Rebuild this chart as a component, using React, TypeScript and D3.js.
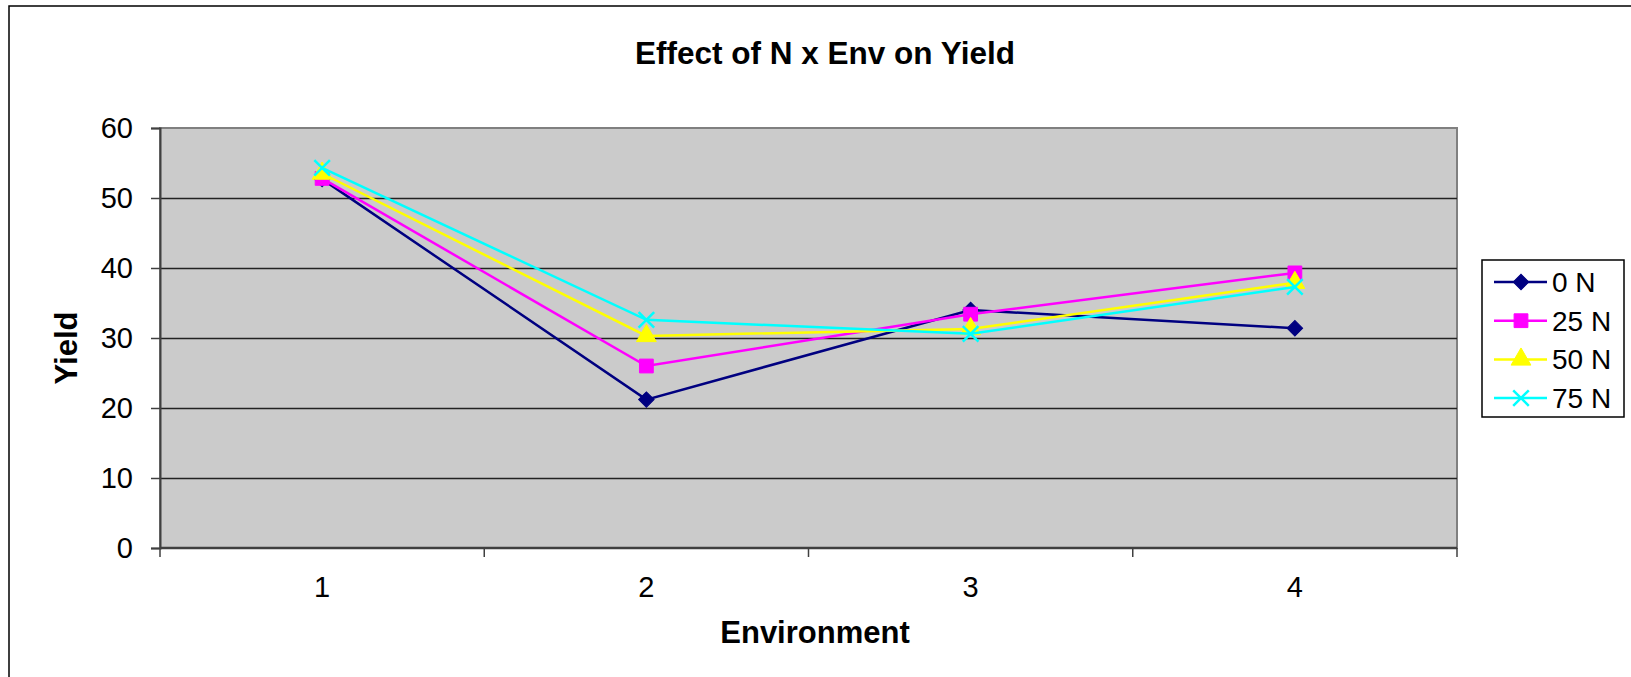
import React, { useEffect, useRef } from 'react';
import * as d3 from 'd3';

// Chart data
const environments: string[] = ['1', '2', '3', '4'];
const seriesNames: string[] = ['0 N', '25 N', '50 N', '75 N'];
const yield0N: number[] = [52.7, 21.2, 34.0, 31.4];
const yield25N: number[] = [52.8, 26.0, 33.4, 39.3];
const yield50N: number[] = [53.5, 30.3, 31.3, 37.9];
const yield75N: number[] = [54.3, 32.6, 30.6, 37.3];
const yTicks: number[] = [0, 10, 20, 30, 40, 50, 60];

const seriesColors: string[] = ['#000080', '#FF00FF', '#FFFF00', '#00FFFF'];
const seriesShapes: string[] = ['diamond', 'square', 'triangle', 'cross'];

const FONT = '"Liberation Sans", Arial, Helvetica, sans-serif';

const App: React.FC = () => {
    const svgRef = useRef<SVGSVGElement>(null);

    useEffect(() => {
        if (!svgRef.current) return;
        const svg = d3.select(svgRef.current);
        svg.selectAll('*').remove();

        const width = 1631;
        const height = 677;
        const plot = { left: 160, top: 128, right: 1457, bottom: 548 };

        svg.attr('width', width).attr('height', height);

        // Outer chart border
        svg.append('rect')
            .attr('x', 9).attr('y', 6)
            .attr('width', 1800).attr('height', 900)
            .attr('fill', 'white')
            .attr('stroke', '#000')
            .attr('stroke-width', 1.5);

        const xScale = d3.scaleBand<string>()
            .domain(environments)
            .range([plot.left, plot.right]);

        const yScale = d3.scaleLinear()
            .domain([0, 60])
            .range([plot.bottom, plot.top]);

        const xPos = (d: string) => (xScale(d) as number) + xScale.bandwidth() / 2;

        // Plot area
        svg.append('rect')
            .attr('x', plot.left).attr('y', plot.top)
            .attr('width', plot.right - plot.left)
            .attr('height', plot.bottom - plot.top)
            .attr('fill', '#cbcbcb')
            .attr('stroke', '#808080')
            .attr('stroke-width', 2);

        // Gridlines
        const yGrid = d3.axisLeft(yScale)
            .tickValues(yTicks.filter(t => t > 0 && t < 60))
            .tickSize(-(plot.right - plot.left))
            .tickFormat(() => '');

        const gridG = svg.append('g')
            .attr('transform', `translate(${plot.left},0)`)
            .call(yGrid);
        gridG.select('.domain').remove();
        gridG.selectAll('line').attr('stroke', '#222').attr('stroke-width', 1.5);

        // Y axis
        const yAxis = d3.axisLeft(yScale)
            .tickValues(yTicks)
            .tickSize(9)
            .tickPadding(18)
            .tickFormat(d3.format('d'));

        const yG = svg.append('g')
            .attr('transform', `translate(${plot.left},0)`)
            .call(yAxis);
        yG.select('.domain').attr('stroke', '#404040').attr('stroke-width', 2);
        yG.selectAll('line').attr('stroke', '#404040').attr('stroke-width', 1.5);
        yG.selectAll('text')
            .attr('font-family', FONT)
            .attr('font-size', 29)
            .attr('fill', '#000');

        // X axis: ticks at category boundaries
        const xG = svg.append('g');
        xG.append('line')
            .attr('x1', plot.left).attr('x2', plot.right)
            .attr('y1', plot.bottom).attr('y2', plot.bottom)
            .attr('stroke', '#404040').attr('stroke-width', 2.5);

        const boundaries = [...environments.map(d => xScale(d) as number), plot.right];
        xG.selectAll('.xtick')
            .data(boundaries)
            .enter().append('line')
            .attr('class', 'xtick')
            .attr('x1', d => d).attr('x2', d => d)
            .attr('y1', plot.bottom).attr('y2', plot.bottom + 9)
            .attr('stroke', '#404040').attr('stroke-width', 1.5);

        xG.selectAll('.xlabel')
            .data(environments)
            .enter().append('text')
            .attr('class', 'xlabel')
            .attr('x', d => xPos(d))
            .attr('y', 597)
            .attr('text-anchor', 'middle')
            .attr('font-family', FONT)
            .attr('font-size', 29)
            .text(d => d);

        // Titles
        svg.append('text')
            .attr('x', 825).attr('y', 64)
            .attr('text-anchor', 'middle')
            .attr('font-family', FONT)
            .attr('font-weight', 'bold')
            .attr('font-size', 31.5)
            .text('Effect of N x Env on Yield');

        svg.append('text')
            .attr('x', 815).attr('y', 643)
            .attr('text-anchor', 'middle')
            .attr('font-family', FONT)
            .attr('font-weight', 'bold')
            .attr('font-size', 31)
            .text('Environment');

        svg.append('text')
            .attr('transform', 'translate(77,348) rotate(-90)')
            .attr('text-anchor', 'middle')
            .attr('font-family', FONT)
            .attr('font-weight', 'bold')
            .attr('font-size', 31)
            .text('Yield');

        const allSeries: number[][] = [yield0N, yield25N, yield50N, yield75N];

        const symbolFor = (shape: string) => {
            if (shape === 'diamond') return d3.symbol().type(d3.symbolSquare).size(120)();
            if (shape === 'square') return d3.symbol().type(d3.symbolSquare).size(190)();
            if (shape === 'triangle') return d3.symbol().type(d3.symbolTriangle).size(170)();
            return d3.symbol().type(d3.symbolTimes).size(160)();
        };

        const drawMarker = (g: d3.Selection<SVGGElement, unknown, null, undefined>, i: number, x: number, y: number) => {
            const shape = seriesShapes[i];
            const p = g.append('path')
                .attr('d', symbolFor(shape) as string)
                .attr('transform', `translate(${x},${y})${shape === 'diamond' ? ' rotate(45)' : ''}`);
            if (shape === 'cross') {
                p.attr('fill', 'none').attr('stroke', seriesColors[i]).attr('stroke-width', 2.5);
            } else {
                p.attr('fill', seriesColors[i]).attr('stroke', seriesColors[i]).attr('stroke-width', 1);
            }
        };

        const line = d3.line<number>()
            .x((_, j) => xPos(environments[j]))
            .y(d => yScale(d));

        allSeries.forEach((values, i) => {
            const g = svg.append('g');
            g.append('path')
                .datum(values)
                .attr('fill', 'none')
                .attr('stroke', seriesColors[i])
                .attr('stroke-width', 2.5)
                .attr('d', line);
            values.forEach((v, j) => drawMarker(g, i, xPos(environments[j]), yScale(v)));
        });

        // Legend
        const legend = svg.append('g');
        legend.append('rect')
            .attr('x', 1482).attr('y', 260)
            .attr('width', 142).attr('height', 157)
            .attr('fill', 'white')
            .attr('stroke', '#000')
            .attr('stroke-width', 1.5);

        seriesNames.forEach((name, i) => {
            const cy = 282 + i * 38.7;
            const row = legend.append('g');
            row.append('line')
                .attr('x1', 1494).attr('x2', 1547)
                .attr('y1', cy).attr('y2', cy)
                .attr('stroke', seriesColors[i])
                .attr('stroke-width', 2.5);
            drawMarker(row, i, 1521, cy);
            row.append('text')
                .attr('x', 1552).attr('y', cy + 10)
                .attr('font-family', FONT)
                .attr('font-size', 28)
                .text(name);
        });
    }, []);

    return (
        <svg
            ref={svgRef}
            style={{ position: 'absolute', left: 0, top: 0, display: 'block' }}
        />
    );
};

export default App;
